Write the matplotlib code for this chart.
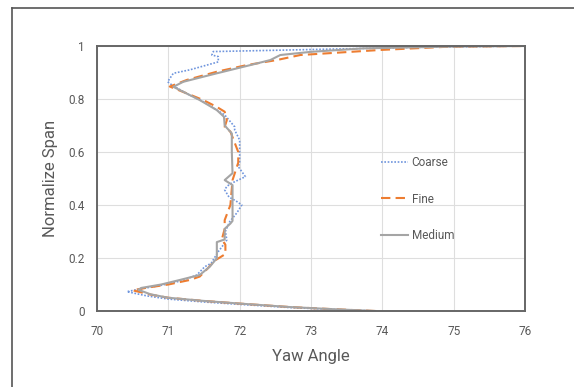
import matplotlib
matplotlib.use("Agg")
import matplotlib.pyplot as plt
from matplotlib.lines import Line2D

plt.rcParams['font.family'] = ['Roboto', 'DejaVu Sans']

# Yaw angle distribution along the normalized span for three mesh resolutions
coarse_yaw = [73.9, 73.3, 72.7, 72.0, 71.5, 71.0, 70.7, 70.42, 70.6, 70.9, 71.2, 71.4,
              71.51, 71.6, 71.7, 71.77, 71.82, 71.8, 71.86, 71.96, 72.03, 71.95, 71.85,
              71.79, 71.82, 71.87, 72.08, 71.98, 72.0, 72.0, 71.93, 71.93, 71.79, 71.49,
              71.26, 71.05, 70.99, 71.07, 71.3, 71.54, 71.7, 71.7, 71.61, 71.63, 72.7,
              74.5, 76.0]
coarse_span = [0.0, 0.006, 0.013, 0.025, 0.034, 0.045, 0.057, 0.073, 0.083, 0.097, 0.115,
               0.136, 0.167, 0.18, 0.224, 0.249, 0.268, 0.3, 0.337, 0.37, 0.4, 0.415,
               0.43, 0.457, 0.47, 0.48, 0.507, 0.545, 0.56, 0.645, 0.683, 0.695, 0.74,
               0.79, 0.82, 0.853, 0.865, 0.897, 0.91, 0.928, 0.94, 0.96, 0.966, 0.979,
               0.985, 0.995, 1.0]

fine_yaw = [73.9, 73.3, 72.7, 72.0, 71.5, 71.0, 70.75, 70.5, 70.7, 71.0, 71.3, 71.44,
            71.55, 71.65, 71.8, 71.8, 71.75, 71.79, 71.79, 71.87, 71.9, 71.98, 71.98,
            71.87, 71.79, 71.82, 71.79, 71.68, 71.49, 71.02, 71.26, 71.68, 72.1, 72.52,
            72.85, 73.97, 74.9, 76.0]
fine_span = [0.0, 0.007, 0.015, 0.028, 0.038, 0.05, 0.062, 0.078, 0.088, 0.1, 0.117,
             0.13, 0.16, 0.19, 0.215, 0.25, 0.27, 0.31, 0.343, 0.4, 0.494, 0.56, 0.6,
             0.677, 0.695, 0.72, 0.752, 0.77, 0.796, 0.847, 0.872, 0.903, 0.928, 0.947,
             0.966, 0.985, 0.997, 1.0]

medium_yaw = [73.9, 73.3, 72.7, 72.0, 71.5, 71.0, 70.75, 70.58, 70.62, 70.9, 71.16,
              71.44, 71.58, 71.68, 71.68, 71.79, 71.79, 71.87, 71.9, 71.9, 71.79, 71.9,
              71.89, 71.89, 71.79, 71.78, 71.68, 71.44, 71.07, 71.21, 71.68, 72.15,
              72.43, 72.57, 73.0, 73.73, 75.0, 76.0]
medium_span = [0.0, 0.007, 0.015, 0.028, 0.038, 0.05, 0.063, 0.08, 0.087, 0.1, 0.117,
               0.136, 0.167, 0.199, 0.26, 0.27, 0.31, 0.33, 0.34, 0.475, 0.494, 0.52,
               0.6, 0.67, 0.70, 0.733, 0.758, 0.796, 0.846, 0.865, 0.897, 0.928, 0.947,
               0.966, 0.978, 0.991, 0.998, 1.0]

x_ticks = [70, 71, 72, 73, 74, 75, 76]
y_ticks = [0, 0.2, 0.4, 0.6, 0.8, 1]
y_tick_labels = ["0", "0.2", "0.4", "0.6", "0.8", "1"]

W, H = 574, 387
fig = plt.figure(figsize=(W / 100, H / 100), dpi=100)
ax = fig.add_axes([97 / W, (H - 311) / H, 428 / W, 265 / H])

text_c = "#595959"

ax.plot(coarse_yaw, coarse_span, color="#6f95dd", lw=1.2, ls=(0, (1, 1)), label="Coarse")
ax.plot(fine_yaw, fine_span, color="#ED7D31", lw=1.5, ls=(0, (4.5, 2.5)), label="Fine")
ax.plot(medium_yaw, medium_span, color="#A5A5A5", lw=1.5, label="Medium")

ax.set_xlim(70, 76)
ax.set_ylim(0, 1)
ax.set_xticks(x_ticks)
ax.set_yticks(y_ticks)
ax.set_yticklabels(y_tick_labels)
ax.tick_params(length=0, labelsize=8.5, colors=text_c)
ax.tick_params(axis="x", pad=10)
ax.tick_params(axis="y", pad=9)
ax.grid(True, color="#dedede", lw=0.8)
ax.set_axisbelow(True)
for s in ax.spines.values():
    s.set_color("#666666")
    s.set_linewidth(1.4)

ax.set_xlabel("Yaw Angle", fontsize=12, color=text_c, labelpad=8)
ax.set_ylabel("Normalize Span", fontsize=12, color=text_c, labelpad=7)

leg = ax.legend(loc="upper left", bbox_to_anchor=(381 / W, (H - 156) / H),
                bbox_transform=fig.transFigure, frameon=False, fontsize=8.5,
                handlelength=2.3, handletextpad=0.3, labelspacing=2.0,
                borderpad=0, borderaxespad=0)
for t in leg.get_texts():
    t.set_color(text_c)

# outer chart frame (top and left edges)
fx = 12 / W
fy = 1 - 8 / H
fig.add_artist(Line2D([fx, 1], [fy, fy], transform=fig.transFigure, color="#555555", lw=1.2))
fig.add_artist(Line2D([fx, fx], [0, fy], transform=fig.transFigure, color="#555555", lw=1.2))

fig.savefig("out.png", dpi=100)
